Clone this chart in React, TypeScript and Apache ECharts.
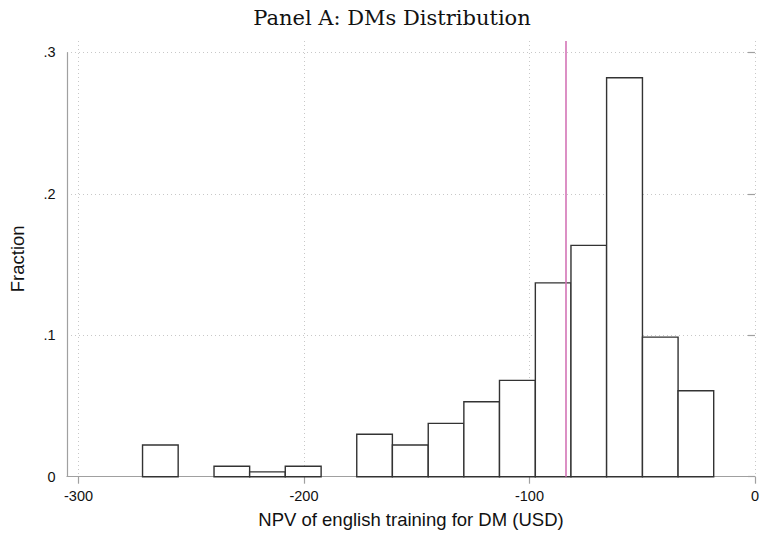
import React, { useEffect, useRef } from "react";
import * as echarts from "echarts";

// Histogram bins (USD) and fractions
const binEdges = [-271.6, -255.8, -239.9, -224.1, -208.3, -192.4, -176.6, -160.8, -144.9, -129.1, -113.3, -97.4, -81.6, -65.8, -49.9, -34.1, -18.3];
const fractions = [0.0224, 0, 0.0074, 0.0034, 0.0074, 0, 0.03, 0.0224, 0.0377, 0.053, 0.0681, 0.137, 0.1635, 0.282, 0.0987, 0.0608];
const meanNPV = -83.7;
const xTicks = [-300, -200, -100, 0];
const yTicks = [0, 0.1, 0.2, 0.3];
const yTickLabels = ["0", ".1", ".2", ".3"];
const xMin = -305.1;
const yMax = 0.308;

const titleText = "Panel A: DMs Distribution";
const xTitle = "NPV of english training for DM (USD)";
const yTitle = "Fraction";

export default function App() {
  const ref = useRef<HTMLDivElement>(null);
  useEffect(() => {
    if (!ref.current) return;
    const chart = echarts.init(ref.current, undefined, { renderer: "svg" });
    const sans = "'Liberation Sans', Arial, Helvetica, sans-serif";
    const grid = { color: "#c8c8c8", width: 1, type: [1, 3] as any };
    const axisColor = "#a0a0a0";
    const data = fractions.map((f, i) => [binEdges[i], binEdges[i + 1], f]);
    chart.setOption({
      animation: false,
      backgroundColor: "#ffffff",
      title: {
        text: titleText,
        left: 387,
        top: 2,
        textAlign: "center",
        textStyle: { fontFamily: "'DejaVu Serif', serif", fontWeight: "normal", fontSize: 21, color: "#111" },
      },
      grid: { left: 66.7, right: 4.3, top: 41, bottom: 60.3, containLabel: false },
      xAxis: {
        type: "value",
        min: xMin,
        max: 0,
        name: xTitle,
        nameLocation: "middle",
        nameGap: 33,
        nameTextStyle: { fontFamily: sans, fontSize: 18.5, color: "#111" },
        axisLine: { show: true, lineStyle: { color: axisColor, width: 1.2 } },
        axisTick: { show: true, length: 7, customValues: xTicks, lineStyle: { color: axisColor, width: 1.2 } },
        axisLabel: { customValues: xTicks, margin: 12, fontFamily: sans, fontSize: 14.5, color: "#111", formatter: (v: number) => String(v) },
        splitLine: { show: true, lineStyle: grid },
      },
      yAxis: {
        type: "value",
        min: 0,
        max: yMax,
        name: yTitle,
        nameLocation: "middle",
        nameGap: 40,
        nameRotate: 90,
        nameTextStyle: { fontFamily: sans, fontSize: 18.5, color: "#111" },
        axisLine: { show: false },
        axisTick: { show: true, length: 7, customValues: yTicks, lineStyle: { color: axisColor, width: 1.2 } },
        axisLabel: {
          customValues: yTicks,
          margin: 11.5,
          fontFamily: sans,
          fontSize: 14.5,
          color: "#111",
          formatter: (v: number) => {
            const i = yTicks.findIndex((t) => Math.abs(t - v) < 1e-9);
            return i >= 0 ? yTickLabels[i] : "";
          },
        },
        splitLine: { show: true, lineStyle: grid },
      },
      series: [
        {
          type: "custom",
          data,
          encode: { x: [0, 1], y: 2 },
          renderItem: (params: any, api: any) => {
            const h = api.value(2);
            if (!h) return null;
            const p0 = api.coord([api.value(0), h]);
            const p1 = api.coord([api.value(1), 0]);
            return {
              type: "rect",
              shape: { x: p0[0], y: p0[1], width: p1[0] - p0[0], height: p1[1] - p0[1] },
              style: { fill: "#ffffff", stroke: "#333333", lineWidth: 1.4 },
            };
          },
          markLine: {
            silent: true,
            symbol: ["none", "none"],
            label: { show: false },
            lineStyle: { color: "#d474b6", width: 1.6, type: "solid" },
            data: [{ xAxis: meanNPV }],
          },
          z: 3,
        },
        {
          type: "line",
          data: [],
          silent: true,
          markLine: {
            silent: true,
            symbol: ["none", "none"],
            label: { show: false },
            lineStyle: { color: axisColor, width: 1.2, type: "solid" },
            data: [[{ coord: [xMin, 0] }, { coord: [xMin, yTicks[yTicks.length - 1]] }]],
          },
          z: 4,
        },
      ],
    });
    return () => chart.dispose();
  }, []);
  return <div ref={ref} style={{ position: "fixed", left: 0, top: 0, width: 762, height: 537 }} />;
}
